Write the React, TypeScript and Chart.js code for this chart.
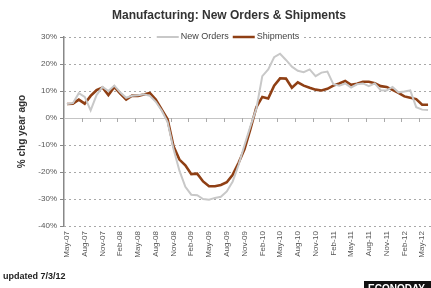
import React, { useEffect, useRef } from 'react';
import { Chart, registerables } from 'chart.js';

Chart.register(...registerables);

const months = [
  'May-07', 'Jun-07', 'Jul-07', 'Aug-07', 'Sep-07', 'Oct-07', 'Nov-07', 'Dec-07',
  'Jan-08', 'Feb-08', 'Mar-08', 'Apr-08', 'May-08', 'Jun-08', 'Jul-08', 'Aug-08', 'Sep-08', 'Oct-08', 'Nov-08', 'Dec-08',
  'Jan-09', 'Feb-09', 'Mar-09', 'Apr-09', 'May-09', 'Jun-09', 'Jul-09', 'Aug-09', 'Sep-09', 'Oct-09', 'Nov-09', 'Dec-09',
  'Jan-10', 'Feb-10', 'Mar-10', 'Apr-10', 'May-10', 'Jun-10', 'Jul-10', 'Aug-10', 'Sep-10', 'Oct-10', 'Nov-10', 'Dec-10',
  'Jan-11', 'Feb-11', 'Mar-11', 'Apr-11', 'May-11', 'Jun-11', 'Jul-11', 'Aug-11', 'Sep-11', 'Oct-11', 'Nov-11', 'Dec-11',
  'Jan-12', 'Feb-12', 'Mar-12', 'Apr-12', 'May-12', 'Jun-12',
];

const newOrders = [
  5.2, 5.5, 9.2, 7.8, 2.8, 8.5, 11.5, 10.0,
  12.0, 9.5, 7.5, 8.2, 8.4, 8.8, 8.2, 6.0, 2.8, -1.5, -11.5, -19.5,
  -25.5, -28.4, -28.6, -30.0, -30.3, -29.6, -29.2, -27.2, -23.5, -17.3, -10.0, -3.0,
  3.5, 15.5, 18.0, 22.5, 23.8, 21.5, 19.0, 17.5, 17.0, 18.0, 15.5, 16.8,
  17.2, 12.5, 12.0, 12.8, 11.3, 12.5, 12.8, 11.8, 12.8, 10.3, 10.2, 11.5,
  9.5, 9.8, 10.2, 4.0, 3.1, 3.0,
];

const shipments = [
  5.2, 5.3, 6.8, 5.3, 8.2, 10.3, 11.3, 8.5,
  11.5, 9.0, 6.8, 8.3, 8.2, 8.7, 9.3, 6.8, 3.2, -0.5, -10.5, -15.4,
  -17.5, -20.8, -20.6, -23.5, -25.3, -25.3, -24.8, -23.8, -21.0, -16.6, -11.5, -4.0,
  4.0, 7.8, 7.2, 12.0, 14.7, 14.6, 11.2, 13.2, 12.0, 11.2, 10.5, 10.2,
  10.8, 12.0, 12.8, 13.7, 12.3, 12.7, 13.4, 13.4, 12.9, 11.8, 11.5, 10.4,
  9.3, 8.0, 7.5, 7.0, 4.9, 4.9,
];

const yTicks = [30, 20, 10, 0, -10, -20, -30, -40];

const titleText = 'Manufacturing: New Orders & Shipments';
const yTitle = '% chg year ago';
const footText = 'updated 7/3/12';
const logoText = 'ECONODAY';

const FONT = "'Liberation Sans Narrow', 'Arial Narrow', 'Liberation Sans', Arial, sans-serif";

const ORDERS_COLOR = '#c8c8c8';
const SHIP_COLOR = '#8f3f14';

const decor = {
  id: 'decor',
  beforeDatasetsDraw(chart: any) {
    const { ctx, chartArea: a, scales } = chart;
    const y = scales.y;
    const x = scales.x;
    ctx.save();
    for (const v of yTicks) {
      const py = Math.round(y.getPixelForValue(v)) + 0.5;
      ctx.beginPath();
      if (v === 0) {
        ctx.setLineDash([]);
        ctx.strokeStyle = '#c4c4c4';
        ctx.lineWidth = 1.2;
      } else {
        ctx.setLineDash([2, 3]);
        ctx.strokeStyle = '#a8a8a8';
        ctx.lineWidth = 1;
      }
      ctx.moveTo(a.left, py);
      ctx.lineTo(a.right, py);
      ctx.stroke();
    }
    // small tick marks below the zero line
    ctx.setLineDash([]);
    ctx.strokeStyle = '#aaaaaa';
    ctx.lineWidth = 1;
    const zy = Math.round(y.getPixelForValue(0));
    for (let i = 3; i < months.length; i += 3) {
      const px = Math.round((x.getPixelForValue(i) + x.getPixelForValue(i - 1)) / 2) + 0.5;
      ctx.beginPath();
      ctx.moveTo(px, zy);
      ctx.lineTo(px, zy + 4);
      ctx.stroke();
    }
    ctx.restore();
  },
  afterDraw(chart: any) {
    const { ctx } = chart;
    ctx.save();
    // title
    ctx.font = `bold 12px ${FONT}`;
    ctx.fillStyle = '#333333';
    ctx.textAlign = 'center';
    ctx.textBaseline = 'middle';
    ctx.fillText(titleText, 229, 16);

    // legend
    const ds = chart.data.datasets;
    ctx.font = `9px ${FONT}`;
    const w1 = ctx.measureText(ds[0].label).width;
    const w2 = ctx.measureText(ds[1].label).width;
    const lineW = 22;
    const total = lineW + 2 + w1 + 4 + lineW + 2 + w2;
    let lx = 228 - total / 2;
    const ly = 37;
    ctx.fillStyle = '#ffffff';
    ctx.fillRect(lx - 4, ly - 6, total + 8, 12);
    ctx.textAlign = 'left';
    ctx.fillStyle = '#444444';
    ctx.lineCap = 'butt';
    ctx.strokeStyle = ORDERS_COLOR;
    ctx.lineWidth = 2;
    ctx.beginPath();
    ctx.moveTo(lx, ly);
    ctx.lineTo(lx + lineW, ly);
    ctx.stroke();
    lx += lineW + 2;
    ctx.fillText(ds[0].label, lx, ly);
    lx += w1 + 4;
    ctx.strokeStyle = SHIP_COLOR;
    ctx.lineWidth = 2.5;
    ctx.beginPath();
    ctx.moveTo(lx, ly);
    ctx.lineTo(lx + lineW, ly);
    ctx.stroke();
    lx += lineW + 2;
    ctx.fillText(ds[1].label, lx, ly);

    // footer
    ctx.font = `bold 9px ${FONT}`;
    ctx.fillStyle = '#222222';
    ctx.textAlign = 'left';
    ctx.fillText(footText, 3, 277);

    // logo
    ctx.fillStyle = '#111111';
    ctx.fillRect(364, 281, 70, 10);
    ctx.fillStyle = '#ffffff';
    ctx.font = `bold 10px ${FONT}`;
    ctx.textBaseline = 'alphabetic';
    ctx.fillText(logoText, 368, 292);
    ctx.restore();
  },
};

export default function App() {
  const ref = useRef<HTMLCanvasElement | null>(null);
  useEffect(() => {
    document.body.style.margin = '0';
    const canvas = ref.current;
    if (!canvas) return;
    const chart = new Chart(canvas, {
      type: 'line',
      data: {
        labels: months,
        datasets: [
          {
            label: 'New Orders',
            data: newOrders,
            borderColor: ORDERS_COLOR,
            borderWidth: 2,
            pointRadius: 0,
            tension: 0,
            fill: false,
          },
          {
            label: 'Shipments',
            data: shipments,
            borderColor: SHIP_COLOR,
            borderWidth: 2.6,
            pointRadius: 0,
            tension: 0,
            fill: false,
          },
        ],
      },
      options: {
        animation: false,
        responsive: false,
        devicePixelRatio: 1,
        layout: { padding: { top: 37, left: 0, right: 0, bottom: 0 } },
        plugins: {
          legend: { display: false },
          title: { display: false },
          tooltip: { enabled: false },
        },
        scales: {
          x: {
            type: 'category',
            offset: true,
            grid: { display: false, drawTicks: false },
            border: { display: false },
            ticks: {
              autoSkip: false,
              minRotation: 90,
              maxRotation: 90,
              padding: 5,
              color: '#555555',
              font: { family: FONT, size: 8 },
              callback: (_v: any, i: number) => (i % 3 === 0 ? months[i] : ''),
            },
            afterFit: (s: any) => {
              s.height = 62;
              s.paddingLeft = 0;
              s.paddingRight = 0;
            },
          },
          y: {
            min: -40,
            max: 30,
            ticks: {
              stepSize: 10,
              padding: 3,
              color: '#555555',
              font: { family: FONT, size: 8 },
              callback: (v: any) => `${v}%`,
            },
            grid: {
              drawOnChartArea: false,
              drawTicks: true,
              tickLength: 4,
              tickColor: '#888888',
            },
            border: { display: true, color: '#888888', width: 1.5 },
            title: {
              display: true,
              text: yTitle,
              color: '#333333',
              font: { family: FONT, size: 10, weight: 'bold' },
              padding: { top: 16, bottom: 0 },
            },
            afterFit: (s: any) => {
              s.width = 64;
            },
          },
        },
      },
      plugins: [decor],
    });
    return () => chart.destroy();
  }, []);
  return (
    <div style={{ width: 431, height: 288, background: '#fff' }}>
      <canvas ref={ref} width={431} height={288} style={{ display: 'block' }} />
    </div>
  );
}
